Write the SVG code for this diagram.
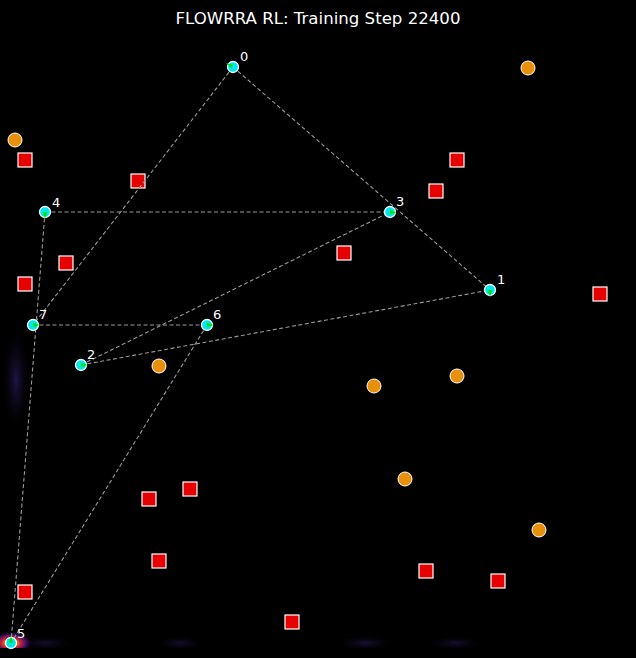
<svg xmlns="http://www.w3.org/2000/svg" width="636" height="658" viewBox="0 0 636 658">
<defs>
<style>
.edge{stroke:#9a9a9a;stroke-width:1.1;stroke-dasharray:4,2.5;fill:none}
.node{fill:#00e5ee;stroke:#ffffff;stroke-width:1.3}
.head{fill:#00e000}
.lbl{fill:#ffffff;font-family:"DejaVu Sans",sans-serif;font-size:13px}
.obs{fill:#e60000;stroke:#ffffff;stroke-width:1.2}
.orb{fill:#e8900c;stroke:#ffffff;stroke-width:1}
</style>
<radialGradient id="glow">
<stop offset="0" stop-color="#2a1a5a" stop-opacity="0.9"/>
<stop offset="1" stop-color="#000000" stop-opacity="0"/>
</radialGradient>
<radialGradient id="hot" cx="0.5" cy="0.5" r="0.5">
<stop offset="0" stop-color="#00ffaa"/>
<stop offset="0.2" stop-color="#ffa000"/>
<stop offset="0.45" stop-color="#c02040"/>
<stop offset="0.7" stop-color="#3a1060"/>
<stop offset="1" stop-color="#000000" stop-opacity="0"/>
</radialGradient>
<clipPath id="plot"><rect x="0" y="0" width="636" height="648"/></clipPath>
</defs>
<rect width="636" height="658" fill="#000000"/>
<g id="heat" clip-path="url(#plot)">
<ellipse cx="16" cy="380" rx="14" ry="55" fill="url(#glow)" opacity="0.9"/>
<ellipse cx="45" cy="643" rx="30" ry="8" fill="url(#glow)" opacity="0.6"/>
<ellipse cx="180" cy="643" rx="25" ry="8" fill="url(#glow)" opacity="0.6"/>
<ellipse cx="365" cy="643" rx="30" ry="8" fill="url(#glow)" opacity="0.7"/>
<ellipse cx="455" cy="643" rx="30" ry="8" fill="url(#glow)" opacity="0.6"/>
<ellipse cx="11" cy="643" rx="22" ry="12" fill="url(#hot)"/>
</g>
<text x="318" y="24" text-anchor="middle" fill="#ffffff" font-family="DejaVu Sans, sans-serif" font-size="16.6">FLOWRRA RL: Training Step 22400</text>
<g id="obstacles">
<rect class="obs" x="18" y="153" width="14" height="14"/>
<rect class="obs" x="131" y="174" width="14" height="14"/>
<rect class="obs" x="450" y="153" width="14" height="14"/>
<rect class="obs" x="429" y="184" width="14" height="14"/>
<rect class="obs" x="59" y="256" width="14" height="14"/>
<rect class="obs" x="18" y="277" width="14" height="14"/>
<rect class="obs" x="337" y="246" width="14" height="14"/>
<rect class="obs" x="593" y="287" width="14" height="14"/>
<rect class="obs" x="142" y="492" width="14" height="14"/>
<rect class="obs" x="183" y="482" width="14" height="14"/>
<rect class="obs" x="152" y="554" width="14" height="14"/>
<rect class="obs" x="18" y="585" width="14" height="14"/>
<rect class="obs" x="285" y="615" width="14" height="14"/>
<rect class="obs" x="419" y="564" width="14" height="14"/>
<rect class="obs" x="491" y="574" width="14" height="14"/>
<circle class="orb" cx="528" cy="68" r="7"/>
<circle class="orb" cx="15" cy="140" r="7"/>
<circle class="orb" cx="159" cy="366" r="7"/>
<circle class="orb" cx="374" cy="386" r="7"/>
<circle class="orb" cx="457" cy="376" r="7"/>
<circle class="orb" cx="405" cy="479" r="7"/>
<circle class="orb" cx="539" cy="530" r="7"/>
</g>
<g id="connectors">
<line class="edge" x1="233" y1="67" x2="490" y2="290"/>
<line class="edge" x1="233" y1="67" x2="33" y2="325"/>
<line class="edge" x1="45" y1="212" x2="390" y2="212"/>
<line class="edge" x1="45" y1="212" x2="11" y2="643"/>
<line class="edge" x1="33" y1="325" x2="207" y2="325"/>
<line class="edge" x1="207" y1="325" x2="11" y2="643"/>
<line class="edge" x1="81" y1="365" x2="390" y2="212"/>
<line class="edge" x1="81" y1="365" x2="490" y2="290"/>
</g>
<g id="node0"><circle class="node" cx="233" cy="67" r="5.5"/><polygon class="head" points="226,63 233,65 231,68"/><text class="lbl" x="240" y="61">0</text></g>
<g id="node1"><circle class="node" cx="490" cy="290" r="5.5"/><polygon class="head" points="490,297 488,290 492,290"/><text class="lbl" x="497" y="284">1</text></g>
<g id="node2"><circle class="node" cx="81" cy="365" r="5.5"/><polygon class="head" points="88,365 81,363 81,367"/><text class="lbl" x="87" y="359">2</text></g>
<g id="node3"><circle class="node" cx="390" cy="212" r="5.5"/><polygon class="head" points="397,213 390,210 390,214"/><text class="lbl" x="396" y="206">3</text></g>
<g id="node4"><circle class="node" cx="45" cy="212" r="5.5"/><polygon class="head" points="45,219 43,212 47,212"/><text class="lbl" x="52" y="207">4</text></g>
<g id="node5"><circle class="node" cx="11" cy="643" r="5.5"/><polygon class="head" points="11,636 9,643 13,643"/><text class="lbl" x="17" y="638">5</text></g>
<g id="node6"><circle class="node" cx="207" cy="325" r="5.5"/><polygon class="head" points="214,325 207,323 207,327"/><text class="lbl" x="213" y="319">6</text></g>
<g id="node7"><circle class="node" cx="33" cy="325" r="5.5"/><polygon class="head" points="40,325 33,323 33,327"/><text class="lbl" x="39" y="319">7</text></g>
</svg>
